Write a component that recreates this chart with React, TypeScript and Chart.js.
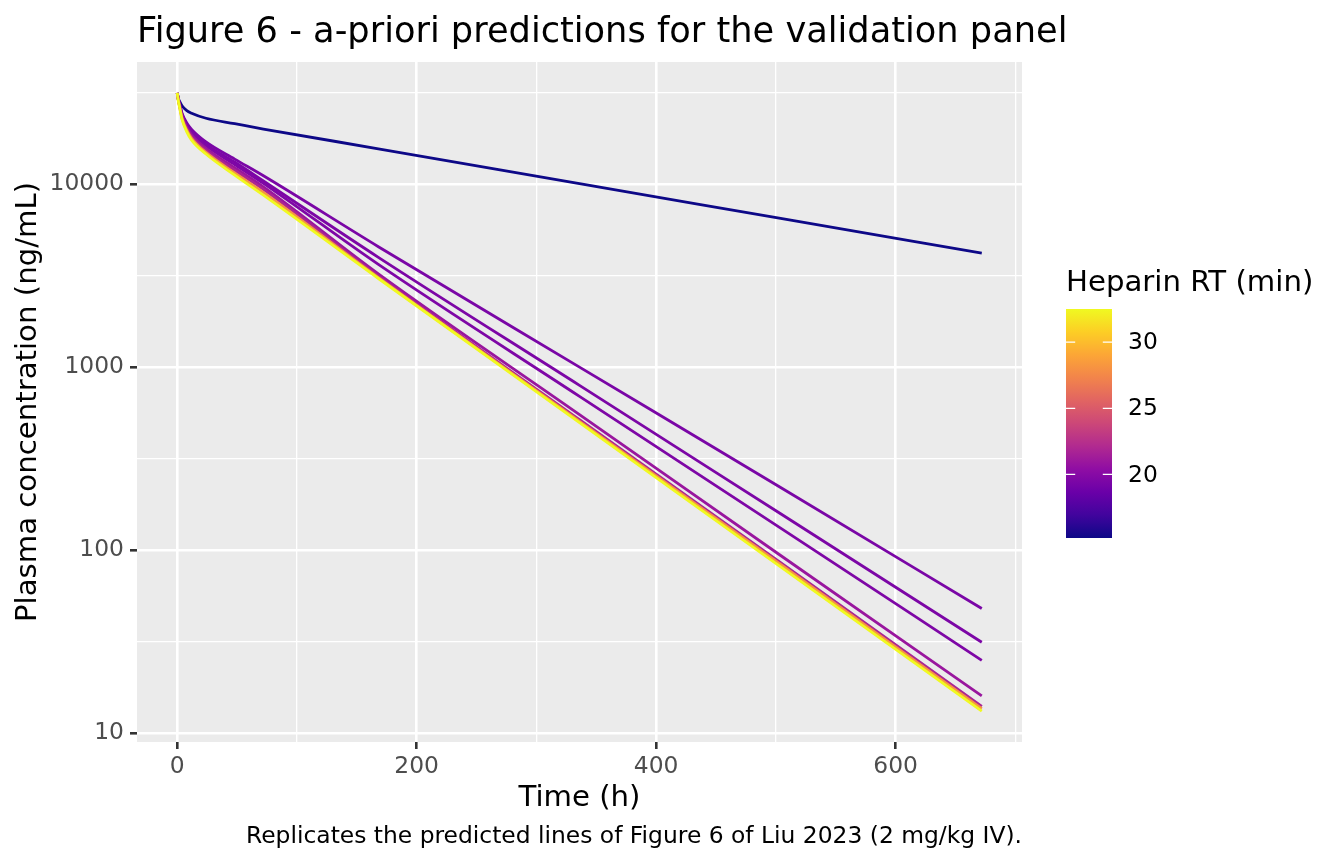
import { useEffect, useRef } from "react"
import { Chart, registerables, type ChartConfiguration, type Plugin } from "chart.js"

Chart.register(...registerables)

// sampling times (h) shared by every predicted curve
const timeHours = [0, 1, 2, 4, 8, 12, 24, 48, 72, 168, 336, 504, 672]

// heparin retention time (min) of each validation antibody
const heparinRT = [15.2, 19.4, 19.5, 19.6, 20.9, 21.8, 28.2, 32.5]

// predicted plasma concentration (ng/mL), one list per antibody
const concRT152 = [31500, 29400, 28300, 26800, 25200, 24400, 22900, 21400, 20000, 15600, 10050, 6500, 4200]
const concRT194 = [31500, 29000, 27400, 24400, 21600, 19900, 17000, 13700, 11100, 4550, 1000, 220, 48]
const concRT195 = [31500, 28900, 27200, 24100, 21200, 19400, 16500, 13200, 10400, 3980, 795, 158, 31.4]
const concRT196 = [31500, 28800, 27100, 23900, 20900, 19100, 16200, 12800, 10100, 3640, 692, 132, 25]
const concRT209 = [31500, 28700, 26900, 23600, 20500, 18600, 15700, 12300, 9650, 3230, 550, 93.5, 16]
const concRT218 = [31500, 28600, 26700, 23300, 20100, 18200, 15300, 11900, 9350, 3140, 516, 85.5, 14]
const concRT282 = [31500, 28400, 26400, 22900, 19700, 17800, 14900, 11500, 9000, 3080, 506, 83.5, 13.6]
const concRT325 = [31500, 28200, 26200, 22600, 19300, 17400, 14600, 11200, 8700, 3050, 498, 81, 13.2]

const concSeries = [concRT152, concRT194, concRT195, concRT196, concRT209, concRT218, concRT282, concRT325]

// axis breaks
const xMajorTicks = [0, 200, 400, 600]
const xMinorTicks = [100, 300, 500, 700]
const yMajorTicks = [10, 100, 1000, 10000]
const yMinorTicks = [31.6227766, 316.227766, 3162.27766, 31622.7766]
const legendTicks = [20, 25, 30]

const titleText = "Figure 6 - a-priori predictions for the validation panel"
const captionText = "Replicates the predicted lines of Figure 6 of Liu 2023 (2 mg/kg IV)."
const legendTitle = "Heparin RT (min)"

const FONT = "'DejaVu Sans', Verdana, sans-serif"
const PLASMA = [
  "#0d0887", "#41049d", "#6a00a8", "#8f0da4", "#b12a90", "#cc4778",
  "#e16462", "#f2844b", "#fca636", "#fcce25", "#f0f921",
]

function hexToRgb(h: string) {
  const n = parseInt(h.slice(1), 16)
  return [(n >> 16) & 255, (n >> 8) & 255, n & 255]
}

function plasma(t: number) {
  const c = Math.min(1, Math.max(0, t)) * (PLASMA.length - 1)
  const i = Math.min(PLASMA.length - 2, Math.floor(c))
  const f = c - i
  const a = hexToRgb(PLASMA[i])
  const b = hexToRgb(PLASMA[i + 1])
  const m = a.map((v, k) => Math.round(v + (b[k] - v) * f))
  return `rgb(${m[0]}, ${m[1]}, ${m[2]})`
}

const rtMin = Math.min(...heparinRT)
const rtMax = Math.max(...heparinRT)

const tLo = Math.min(...timeHours)
const tHi = Math.max(...timeHours)
const xPad = (tHi - tLo) * 0.05

const allConc = concSeries.flat()
const lLo = Math.log10(Math.min(...allConc))
const lHi = Math.log10(Math.max(...allConc))
const yPad = (lHi - lLo) * 0.05

const isMajorLog = (v: number) => Math.abs(Math.log10(v) - Math.round(Math.log10(v))) < 1e-6

const panelPlugin: Plugin = {
  id: "panel",
  beforeDraw(chart) {
    const { ctx, chartArea: a } = chart
    ctx.save()
    ctx.fillStyle = "#ffffff"
    ctx.fillRect(0, 0, chart.width, chart.height)
    ctx.fillStyle = "#EBEBEB"
    ctx.fillRect(a.left, a.top, a.right - a.left, a.bottom - a.top)
    ctx.restore()
  },
  afterDraw(chart) {
    const { ctx, chartArea: a } = chart
    ctx.save()
    ctx.fillStyle = "#000000"
    ctx.textBaseline = "alphabetic"
    ctx.font = `35.2px ${FONT}`
    ctx.textAlign = "left"
    ctx.fillText(titleText, a.left, 42)

    ctx.font = `23.4px ${FONT}`
    ctx.textAlign = "right"
    ctx.fillText(captionText, a.right, 843)

    // colour bar legend
    const bx = a.right + 44
    const by = 309
    const bw = 46
    const bh = 229
    ctx.font = `29.2px ${FONT}`
    ctx.textAlign = "left"
    ctx.textBaseline = "middle"
    ctx.fillText(legendTitle, bx, 283)

    const grad = ctx.createLinearGradient(0, by + bh, 0, by)
    PLASMA.forEach((c, i) => grad.addColorStop(i / (PLASMA.length - 1), c))
    ctx.fillStyle = grad
    ctx.fillRect(bx, by, bw, bh)

    ctx.strokeStyle = "#ffffff"
    ctx.lineWidth = 1.3
    ctx.font = `23.4px ${FONT}`
    ctx.fillStyle = "#000000"
    legendTicks.forEach((v) => {
      const y = by + bh - ((v - rtMin) / (rtMax - rtMin)) * bh
      ctx.beginPath()
      ctx.moveTo(bx, y)
      ctx.lineTo(bx + bw / 5, y)
      ctx.moveTo(bx + bw - bw / 5, y)
      ctx.lineTo(bx + bw, y)
      ctx.stroke()
      ctx.fillText(String(v), bx + bw + 16, y + 1)
    })
    ctx.restore()
  },
}

export default function App() {
  const canvasRef = useRef<HTMLCanvasElement>(null)
  const chartRef = useRef<Chart | null>(null)

  useEffect(() => {
    if (!canvasRef.current) return
    if (chartRef.current) chartRef.current.destroy()
    const ctx = canvasRef.current.getContext("2d")
    if (!ctx) return

    const datasets = concSeries
      .map((series, i) => ({
        label: `RT ${heparinRT[i]}`,
        data: series.map((c, k) => ({ x: timeHours[k], y: c })),
        borderColor: plasma((heparinRT[i] - rtMin) / (rtMax - rtMin)),
        borderWidth: 2.8,
        pointRadius: 0,
        fill: false,
        cubicInterpolationMode: "monotone" as const,
        borderCapStyle: "butt" as const,
        borderJoinStyle: "round" as const,
      }))
      .reverse()

    const config: ChartConfiguration = {
      type: "line",
      data: { datasets },
      options: {
        animation: false,
        responsive: false,
        layout: { padding: { top: 62, right: 322, left: 0, bottom: 0 } },
        plugins: {
          legend: { display: false },
          tooltip: { enabled: false },
        },
        scales: {
          x: {
            type: "linear",
            min: tLo - xPad,
            max: tHi + xPad,
            afterBuildTicks: (scale) => {
              scale.ticks = [...xMajorTicks, ...xMinorTicks].sort((p, q) => p - q).map((v) => ({ value: v }))
            },
            afterFit: (scale) => {
              scale.height = 122
            },
            border: { display: false },
            grid: {
              color: "#ffffff",
              lineWidth: (c) => (xMajorTicks.includes(c.tick.value) ? 2.6 : 1.3),
              tickLength: 7,
              tickWidth: 2.6,
              tickColor: (c) => (xMajorTicks.includes(c.tick.value) ? "#333333" : "rgba(0,0,0,0)"),
            },
            ticks: {
              autoSkip: false,
              maxRotation: 0,
              padding: 4,
              color: "#4D4D4D",
              font: { family: FONT, size: 23.4 },
              callback: (v) => (xMajorTicks.includes(Number(v)) ? String(v) : ""),
            },
            title: {
              display: true,
              text: "Time (h)",
              color: "#000000",
              font: { family: FONT, size: 29.2 },
              padding: { top: 0, bottom: 48 },
            },
          },
          y: {
            type: "logarithmic",
            min: Math.pow(10, lLo - yPad),
            max: Math.pow(10, lHi + yPad),
            afterBuildTicks: (scale) => {
              scale.ticks = [...yMajorTicks, ...yMinorTicks].sort((p, q) => p - q).map((v) => ({ value: v }))
            },
            afterFit: (scale) => {
              scale.width = 137
            },
            border: { display: false },
            grid: {
              color: "#ffffff",
              lineWidth: (c) => (isMajorLog(c.tick.value) ? 2.6 : 1.3),
              tickLength: 7,
              tickWidth: 2.6,
              tickColor: (c) => (isMajorLog(c.tick.value) ? "#333333" : "rgba(0,0,0,0)"),
            },
            ticks: {
              autoSkip: false,
              padding: 6,
              color: "#4D4D4D",
              font: { family: FONT, size: 23.4 },
              callback: (v) => (isMajorLog(Number(v)) ? String(Math.round(Number(v))) : ""),
            },
            title: {
              display: true,
              text: "Plasma concentration (ng/mL)",
              color: "#000000",
              font: { family: FONT, size: 29.2 },
              padding: { top: 11, bottom: 0 },
            },
          },
        },
      },
      plugins: [panelPlugin],
    }

    chartRef.current = new Chart(ctx, config)
    return () => {
      if (chartRef.current) {
        chartRef.current.destroy()
        chartRef.current = null
      }
    }
  }, [])

  return (
    <div style={{ position: "fixed", left: 0, top: 0, width: 1344, height: 864, background: "#fff" }}>
      <canvas ref={canvasRef} width={1344} height={864} style={{ width: 1344, height: 864 }}></canvas>
    </div>
  )
}
